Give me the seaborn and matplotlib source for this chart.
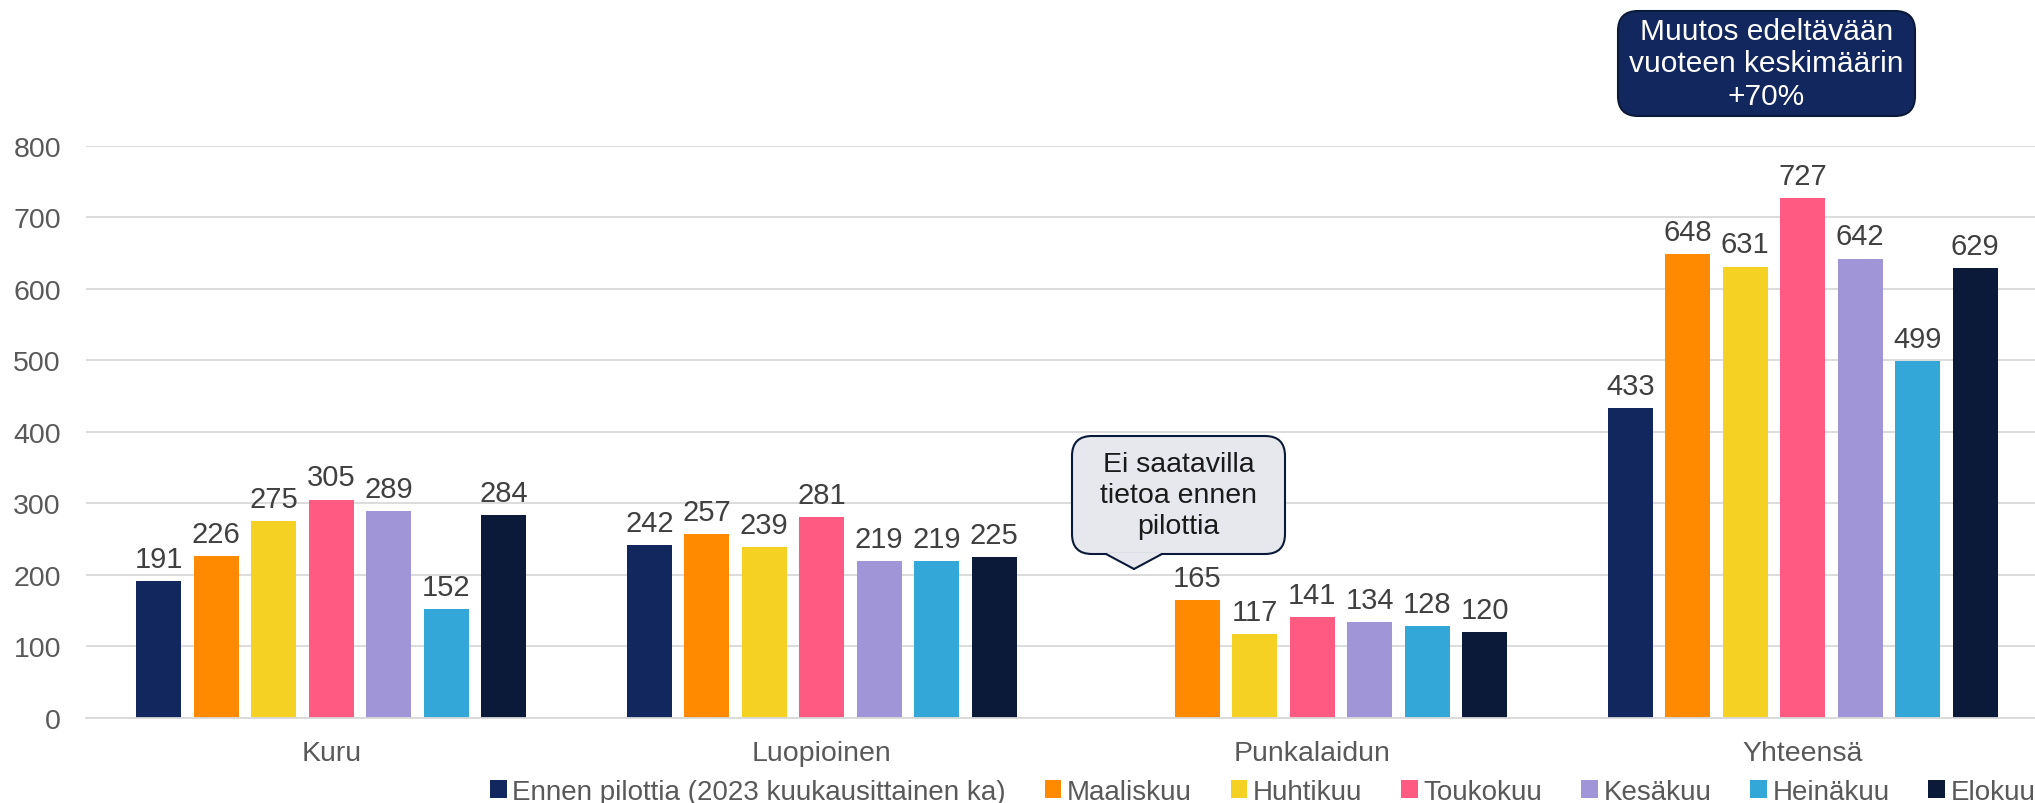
import numpy as np
import pandas as pd
import seaborn as sns
import matplotlib.pyplot as plt
from matplotlib.patches import FancyBboxPatch, Polygon
from matplotlib.lines import Line2D

categories = ["Kuru", "Luopioinen", "Punkalaidun", "Yhteensä"]
series = ["Ennen pilottia (2023 kuukausittainen ka)", "Maaliskuu", "Huhtikuu",
          "Toukokuu", "Kesäkuu", "Heinäkuu", "Elokuu"]
ennen = [191, 242, np.nan, 433]
maaliskuu = [226, 257, 165, 648]
huhtikuu = [275, 239, 117, 631]
toukokuu = [305, 281, 141, 727]
kesakuu = [289, 219, 134, 642]
heinakuu = [152, 219, 128, 499]
elokuu = [284, 225, 120, 629]
colors = ["#12275E", "#FF8A00", "#F4D122", "#FF5A82", "#A095D6", "#33A8D8", "#0B1A38"]

values = [ennen, maaliskuu, huhtikuu, toukokuu, kesakuu, heinakuu, elokuu]
rows = []
for s, vals in zip(series, values):
    for c, v in zip(categories, vals):
        rows.append({"Alue": c, "Sarja": s, "Arvo": v})
df = pd.DataFrame(rows).dropna()

sns.set_theme(style="white")
plt.rcParams["font.family"] = ["Liberation Sans", "DejaVu Sans"]

W, H = 2035, 804
fig = plt.figure(figsize=(W / 100, H / 100), dpi=100)
ax = fig.add_axes([86 / W, 1 - 719 / H, 1962 / W, (719 - 146.7) / H])

sns.barplot(data=df, x="Alue", y="Arvo", hue="Sarja", order=categories,
            hue_order=series, palette=colors, width=0.82, gap=0.216,
            saturation=1, errorbar=None, ax=ax, linewidth=0)

for cont in ax.containers:
    ax.bar_label(cont, fmt="%d", padding=6, fontsize=21, color="#404040")

ax.set_xlim(-0.5, 3.5)
ax.set_ylim(0, 800)
ax.set_yticks(range(0, 801, 100))
ax.yaxis.grid(True, color="#D9D9D9", linewidth=1.3)
ax.set_axisbelow(True)
for sp in ["top", "right", "left"]:
    ax.spines[sp].set_visible(False)
ax.spines["bottom"].set_color("#D9D9D9")
ax.spines["bottom"].set_linewidth(1.3)
ax.set_xlabel("")
ax.set_ylabel("")
ax.tick_params(axis="y", length=0, pad=18, labelsize=20.5, labelcolor="#595959")
ax.tick_params(axis="x", length=0, pad=16, labelsize=20.5, labelcolor="#595959")

handles, labels = ax.get_legend_handles_labels()
if ax.legend_ is not None:
    ax.legend_.remove()
fig.legend(handles, labels, loc="center left", bbox_to_anchor=(490 / W, 1 - 793 / H),
           ncol=7, frameon=False, fontsize=20, handlelength=0.6, handleheight=0.6,
           handletextpad=0.2, columnspacing=1.4, labelcolor="#595959",
           borderaxespad=0, borderpad=0)

T = fig.dpi_scale_trans


def px(x, y):
    return (x / 100, (H - y) / 100)


# Callout "Ei saatavilla..."
bx0, by0, bx1, by1 = 1072, 437, 1285, 555
box = FancyBboxPatch(px(bx0, by1), (bx1 - bx0) / 100, (by1 - by0) / 100,
                     boxstyle="round,pad=0,rounding_size=0.2", transform=T,
                     facecolor="#E7E8EE", edgecolor="#0B1A38", linewidth=1.5, zorder=5)
fig.add_artist(box)
tail = Polygon([px(1106, by1 - 1), px(1134, 570), px(1162, by1 - 1)], closed=True,
               transform=T, facecolor="#E7E8EE", edgecolor="none", zorder=6)
fig.add_artist(tail)
for (xa, ya), (xb, yb) in [((1106, by1), (1134, 570)), ((1134, 570), (1162, by1))]:
    fig.add_artist(Line2D([xa / 100, xb / 100], [(H - ya) / 100, (H - yb) / 100],
                          transform=T, color="#0B1A38", linewidth=1.5, zorder=7))
cx, cy = px((bx0 + bx1) / 2, (by0 + by1) / 2)
fig.text(cx, cy, "Ei saatavilla\ntietoa ennen\npilottia", transform=T, ha="center",
         va="center", fontsize=20.5, color="#1A1A1A", linespacing=1.25, zorder=8)

# Navy box
nx0, ny0, nx1, ny1 = 1618, 12, 1915, 117
nbox = FancyBboxPatch(px(nx0, ny1), (nx1 - nx0) / 100, (ny1 - ny0) / 100,
                      boxstyle="round,pad=0,rounding_size=0.2", transform=T,
                      facecolor="#12275E", edgecolor="#0B1A38", linewidth=1.5, zorder=5)
fig.add_artist(nbox)
cx, cy = px((nx0 + nx1) / 2, (ny0 + ny1) / 2)
fig.text(cx, cy, "Muutos edeltävään\nvuoteen keskimäärin\n+70%", transform=T,
         ha="center", va="center", fontsize=21.5, color="white", linespacing=1.2, zorder=8)

fig.savefig("out.png", dpi=100)
